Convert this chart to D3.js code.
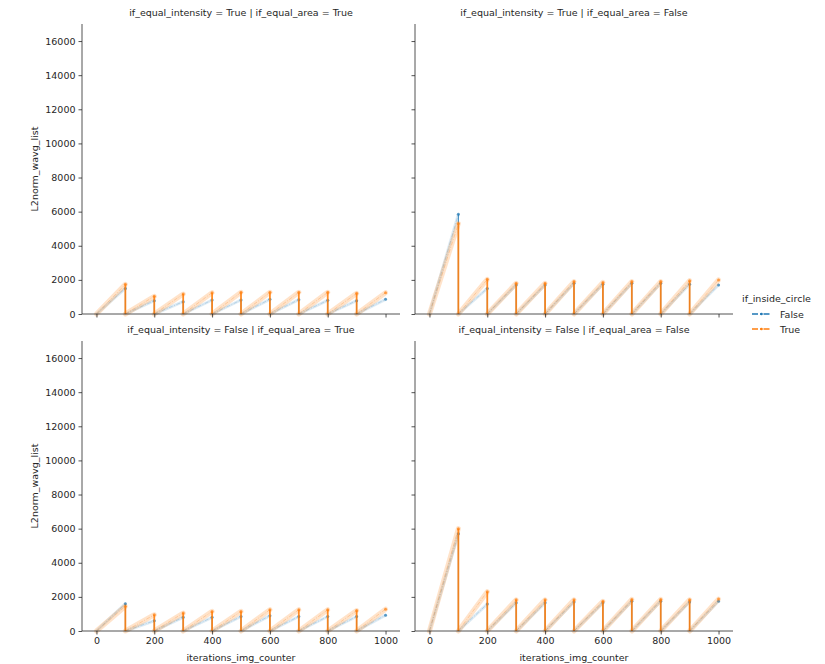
<!DOCTYPE html>
<html>
<head>
<meta charset="utf-8">
<script src="https://cdnjs.cloudflare.com/ajax/libs/d3/7.8.5/d3.min.js"></script>
<style>
  body { margin: 0; background: #fff; }
  svg text { font-family: "DejaVu Sans", sans-serif; fill: #262626; }
</style>
</head>
<body>
<div class="chart"></div>
<script>
// segment ends (the counter resets to 0 after every 100 iterations)
const segEnds = [100, 200, 300, 400, 500, 600, 700, 800, 900, 1000];
const xTicks = [0, 200, 400, 600, 800, 1000];
const yTicks = [0, 2000, 4000, 6000, 8000, 10000, 12000, 14000, 16000];

// peak L2norm value reached at the end of each segment
const ttFalse = [1500, 780, 720, 820, 820, 860, 840, 800, 780, 860];
const ttTrue = [1740, 1040, 1170, 1250, 1270, 1270, 1270, 1270, 1210, 1250];
const tfFalse = [5850, 1500, 1700, 1700, 1800, 1750, 1800, 1800, 1750, 1700];
const tfTrue = [5300, 2030, 1800, 1800, 1900, 1850, 1900, 1900, 1950, 2000];
const ftFalse = [1600, 600, 800, 800, 850, 900, 850, 850, 850, 930];
const ftTrue = [1450, 950, 1050, 1150, 1150, 1250, 1250, 1250, 1200, 1280];
const ffFalse = [5700, 1580, 1650, 1650, 1700, 1650, 1750, 1750, 1700, 1750];
const ffTrue = [6000, 2300, 1830, 1830, 1830, 1740, 1850, 1850, 1830, 1870];

const panels = [
  { title: 'if_equal_intensity = True | if_equal_area = True', row: 0, col: 0, f: ttFalse, t: ttTrue },
  { title: 'if_equal_intensity = True | if_equal_area = False', row: 0, col: 1, f: tfFalse, t: tfTrue },
  { title: 'if_equal_intensity = False | if_equal_area = True', row: 1, col: 0, f: ftFalse, t: ftTrue },
  { title: 'if_equal_intensity = False | if_equal_area = False', row: 1, col: 1, f: ffFalse, t: ffTrue }
];

const colors = { False: '#1f77b4', True: '#ff7f0e' };
// how the faint ramps and the solid drops look for each hue
const looks = {
  False: { band: 3, bandOp: 0.15, lineOp: 0.25, drop: 1.0 },
  True: { band: 5, bandOp: 0.22, lineOp: 0.3, drop: 1.8 }
};

const chartWidth = 825;
const chartHeight = 664;
const colX = [82, 415];
const rowY = [24, 341];
const panelW = 318;
const panelH = 290;

const svg = d3.select('.chart')
  .append('svg')
  .attr('width', chartWidth)
  .attr('height', chartHeight);

const xScale = d3.scaleLinear().domain([-50, 1050]).range([0, panelW]);
const yScale = d3.scaleLinear().domain([0, 17000]).range([panelH, 0]);

panels.forEach(p => {
  const g = svg.append('g')
    .attr('transform', `translate(${colX[p.col]}, ${rowY[p.row]})`);

  // series, False first so True sits on top
  [['False', p.f], ['True', p.t]].forEach(([name, peaks]) => {
    const c = colors[name];
    const lk = looks[name];
    const ramps = peaks.map((v, i) => [[segEnds[i] - 100, 0], [segEnds[i], v]]);
    const line = d3.line().x(d => xScale(d[0])).y(d => yScale(d[1]));

    // pale band around each ramp
    g.append('g').selectAll('path')
      .data(ramps)
      .enter()
      .append('path')
      .attr('d', line)
      .attr('fill', 'none')
      .attr('stroke', c)
      .attr('stroke-opacity', lk.bandOp)
      .attr('stroke-width', lk.band)
      .attr('stroke-linecap', 'round');

    g.append('g').selectAll('path')
      .data(ramps)
      .enter()
      .append('path')
      .attr('d', line)
      .attr('fill', 'none')
      .attr('stroke', c)
      .attr('stroke-opacity', lk.lineOp)
      .attr('stroke-width', 0.9)
      .attr('stroke-dasharray', '4,1.5,1,1.5');

    // drop back to 0 at every reset
    g.append('g').selectAll('line')
      .data(peaks.slice(0, -1))
      .enter()
      .append('line')
      .attr('x1', (d, i) => xScale(segEnds[i]))
      .attr('x2', (d, i) => xScale(segEnds[i]))
      .attr('y1', d => yScale(d))
      .attr('y2', yScale(0))
      .attr('stroke', c)
      .attr('stroke-opacity', 0.9)
      .attr('stroke-width', lk.drop);

    g.append('g').selectAll('circle')
      .data(peaks)
      .enter()
      .append('circle')
      .attr('cx', (d, i) => xScale(segEnds[i]))
      .attr('cy', d => yScale(d))
      .attr('r', 1.5)
      .attr('fill', c)
      .attr('fill-opacity', 0.7);
  });

  const xAxis = d3.axisBottom(xScale).tickValues(xTicks).tickSize(3.5).tickPadding(3)
    .tickFormat(p.row === 1 ? d3.format('d') : '');
  const xg = g.append('g')
    .attr('transform', `translate(0, ${panelH})`)
    .call(xAxis);

  const yAxis = d3.axisLeft(yScale).tickValues(yTicks).tickSize(3.5).tickPadding(3)
    .tickFormat(p.col === 0 ? d3.format('d') : '');
  const yg = g.append('g').call(yAxis);

  [xg, yg].forEach(a => {
    a.selectAll('text').attr('font-size', '9.5px').attr('font-family', 'DejaVu Sans').attr('fill', '#262626');
    a.selectAll('line').attr('stroke', '#262626').attr('stroke-width', 0.8);
    a.select('.domain').attr('stroke', '#262626').attr('stroke-width', 0.8);
  });
  // despine: only keep a plain line, no outer ticks
  xg.select('.domain').attr('d', `M0,0H${panelW}`);
  yg.select('.domain').attr('d', `M0,0V${panelH}`);

  g.append('text')
    .attr('x', panelW / 2)
    .attr('y', -8)
    .attr('text-anchor', 'middle')
    .attr('font-size', '9.5px')
    .text(p.title);

  if (p.row === 1) {
    g.append('text')
      .attr('x', panelW / 2)
      .attr('y', panelH + 30)
      .attr('text-anchor', 'middle')
      .attr('font-size', '9.5px')
      .text('iterations_img_counter');
  }
  if (p.col === 0) {
    g.append('text')
      .attr('transform', `translate(-44, ${panelH / 2}) rotate(-90)`)
      .attr('text-anchor', 'middle')
      .attr('font-size', '9.5px')
      .text('L2norm_wavg_list');
  }
});

// legend
const legend = svg.append('g').attr('transform', 'translate(742, 299)');
legend.append('text')
  .attr('x', 0)
  .attr('y', 3)
  .attr('font-size', '9.5px')
  .text('if_inside_circle');
['False', 'True'].forEach((name, i) => {
  const gy = 15 + i * 15;
  legend.append('line')
    .attr('x1', 10).attr('x2', 29)
    .attr('y1', gy).attr('y2', gy)
    .attr('stroke', colors[name])
    .attr('stroke-width', 1.3)
    .attr('stroke-dasharray', '6,2,1.5,2');
  legend.append('circle')
    .attr('cx', 19.5).attr('cy', gy).attr('r', 1.3)
    .attr('fill', colors[name]);
  legend.append('text')
    .attr('x', 38)
    .attr('y', gy + 3.5)
    .attr('font-size', '9.5px')
    .text(name);
});
</script>
</body>
</html>
